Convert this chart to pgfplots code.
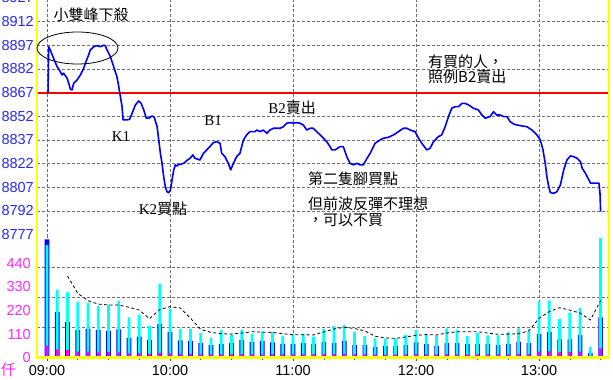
\documentclass[border=0pt]{standalone}
\usepackage{fontspec}
\setmainfont{Liberation Sans}
\newfontfamily\cjk{Noto Sans CJK TC}
\newfontfamily\serifL{Liberation Serif}
\usepackage{pgfplots}
\pgfplotsset{compat=1.18}
\usepackage{pgfplotstable}

\definecolor{lblblue}{RGB}{40,40,255}
\definecolor{lblmag}{RGB}{255,40,255}
\definecolor{pblue}{RGB}{0,0,255}
\definecolor{vcyan}{RGB}{0,255,255}
\definecolor{vmag}{RGB}{255,0,255}
\definecolor{ylw}{RGB}{255,255,0}
\definecolor{gridc}{RGB}{110,110,110}

\pgfplotstableread{
m p
0.5 8867
0.8 8896.1
1.6 8894.0
3.2 8888.8
4.9 8883.5
6.5 8880.3
7.3 8878.2
8.1 8879.3
9.8 8876.1
10.6 8872.9
11.4 8869.1
12.2 8868.7
13.0 8872.9
14.6 8875.0
16.3 8878.2
17.9 8882.4
18.7 8885.6
20.3 8890.9
21.1 8894.0
22.8 8896.1
24.4 8896.8
26.0 8896.1
27.6 8897.0
28.4 8896.8
29.3 8894.0
30.9 8889.8
32.5 8883.5
34.1 8877.1
35.0 8870.8
35.8 8864.4
36.6 8858.1
37.1 8849.7
39.0 8849.7
40.3 8850.1
41.5 8853.9
43.1 8859.2
44.7 8861.7
45.9 8860.2
47.2 8856.0
48.4 8850.8
49.6 8850.8
51.2 8852.2
52.3 8851.4
53.7 8845.4
54.5 8837.0
55.3 8828.6
56.1 8822.2
56.9 8813.7
57.7 8807.4
58.5 8804.2
59.4 8803.6
60.2 8805.3
61.0 8811.7
61.8 8818.0
62.6 8821.2
63.4 8820.5
64.2 8821.5
65.0 8821.5
66.7 8822.2
68.2 8824.0
69.8 8825.4
71.1 8827.5
72.2 8825.4
74.6 8824.3
76.3 8828.6
77.9 8830.7
79.5 8832.8
81.1 8835.3
82.8 8835.9
84.4 8834.9
85.2 8828.6
86.8 8826.4
88.4 8822.2
89.6 8818.0
90.9 8822.2
92.5 8826.4
94.1 8828.6
95.8 8837.0
97.4 8840.2
99.0 8842.3
101.5 8842.3
102.3 8843.3
103.9 8842.3
105.5 8843.3
107.2 8841.2
108.8 8843.3
110.4 8844.4
113.7 8844.4
115.3 8845.4
116.9 8847.6
118.5 8848.0
120.2 8847.6
121.8 8848.0
123.4 8847.6
125.0 8846.5
126.7 8843.3
128.3 8844.4
129.9 8844.4
131.5 8842.3
133.2 8840.2
134.8 8838.1
136.4 8835.9
138.0 8832.8
138.9 8830.7
140.5 8830.7
142.9 8832.8
144.5 8832.8
146.2 8826.4
147.8 8822.2
149.4 8821.2
151.1 8822.2
152.7 8821.2
154.3 8821.2
155.9 8825.0
157.6 8828.5
160.0 8834.9
162.4 8837.0
164.1 8838.1
166.5 8838.7
169.0 8840.2
171.4 8842.3
173.8 8844.4
175.5 8844.4
177.1 8843.3
179.5 8842.3
181.2 8838.1
182.8 8834.9
185.2 8830.7
186.8 8831.7
188.5 8835.9
190.9 8839.1
192.5 8840.2
194.2 8845.4
195.8 8851.8
197.4 8857.1
199.1 8858.1
200.7 8858.1
202.3 8860.2
203.9 8860.2
205.6 8859.2
208.0 8857.1
210.4 8856.0
212.1 8852.8
213.7 8850.8
216.1 8851.8
217.8 8854.9
219.4 8852.8
221.0 8852.8
222.7 8851.8
224.3 8851.8
225.9 8848.6
227.6 8847.1
229.2 8846.5
231.6 8845.9
234.1 8845.4
236.5 8843.3
238.9 8840.2
240.6 8837.0
241.9 8830.7
243.0 8822.2
243.8 8813.7
244.7 8807.4
245.5 8803.6
247.1 8803.2
248.7 8804.2
250.4 8808.5
252.0 8818.0
253.6 8824.3
255.3 8826.9
256.9 8826.4
258.5 8825.4
260.2 8823.2
261.0 8819.1
262.6 8815.9
264.3 8811.7
265.1 8809.6
269.2 8809.6
269.7 8803.2
270.0 8791.6
}\pricedata

\pgfplotstableread{
m blue cyan mag ma
0 552 525 56 nan
5 214 316 39 nan
10 166 305 36 381
15 129 261 28 300
20 134 256 28 266
25 129 241 25 250
30 124 247 26 246
35 132 264 25 246
40 93 188 20 235
45 98 201 20 222
50 82 149 18 182
55 157 344 22 225
60 120 227 20 238
65 81 134 18 232
70 78 134 18 184
75 68 115 16 132
80 59 93 16 118
85 65 129 16 112
90 68 106 16 110
95 82 129 17 115
100 73 112 16 121
105 78 123 16 119
110 71 120 16 118
115 64 103 15 112
120 64 109 15 107
125 68 110 15 107
130 64 98 15 106
135 73 135 17 120
140 68 149 17 134
145 78 152 18 142
150 59 120 15 136
155 59 101 15 125
160 51 90 14 100
165 55 89 14 92
170 55 89 14 90
175 59 106 15 97
180 71 129 17 104
185 64 106 15 108
190 55 103 14 106
195 68 137 17 115
200 68 129 16 121
205 64 101 15 121
210 64 115 15 121
215 64 104 15 115
220 59 104 15 109
225 64 120 16 110
230 73 137 18 112
235 68 126 17 125
240 110 261 28 184
245 120 266 30 215
250 86 180 25 233
255 86 210 26 222
260 106 232 28 208
265 22 50 8 176
270 188 558 44 266
}\voldata

\newcommand{\tfont}{\fontsize{14.5bp}{17bp}\selectfont}
\newcommand{\cfont}{\fontsize{15bp}{18bp}\selectfont}

\begin{document}
\begin{tikzpicture}
\path[use as bounding box] (0,0) rectangle (613bp,380bp);

% price panel
\begin{axis}[
  at={(37bp,143bp)}, anchor=south west, scale only axis,
  width=572bp, height=237bp,
  xmin=-4.88, xmax=274.1, ymin=8775.5, ymax=8925.7,
  axis line style={draw=none},
  tick style={draw=none},
  xtick={0,60,120,180,240}, xticklabels={},
  xmajorgrids,
  ytick={8777,8792,...,8912},
  extra y ticks={8792,8807,...,8912}, extra y tick labels={},
  extra y tick style={ymajorgrids=true},
  grid style={gridc, line width=0.6bp, dash pattern=on 2.5bp off 2.5bp},
  scaled y ticks=false,
  /pgf/number format/1000 sep={},
  /pgf/number format/assume math mode=true,
  yticklabel style={font=\tfont, text=lblblue, anchor=east, inner sep=0pt, xshift=-3bp},
]
\addplot[red, line width=2bp] coordinates {(-4.88,8867) (274.1,8867)};
\addplot[pblue, line width=1.6bp, line join=round] table[x=m, y=p] {\pricedata};
\end{axis}

% volume panel
\begin{axis}[
  at={(37bp,22.3bp)}, anchor=south west, scale only axis,
  width=572bp, height=120.7bp,
  xmin=-4.88, xmax=274.1, ymin=0, ymax=563,
  axis line style={draw=none},
  ytick={0,110,220,330,440},
  ytick style={draw=none},
  extra y ticks={140.75,281.5,422.25}, extra y tick labels={},
  extra y tick style={ymajorgrids=true},
  xtick={0,60,120,180,240},
  xticklabels={09:00,10:00,11:00,12:00,13:00},
  minor xtick={15,30,45,75,90,105,135,150,165,195,210,225,255,270},
  xtick pos=bottom, tick align=outside,
  major tick length=3bp, minor tick length=2.5bp,
  xtick style={black!70, line width=0.6bp},
  xmajorgrids,
  grid style={gridc, line width=0.6bp, dash pattern=on 2.5bp off 2.5bp},
  /pgf/number format/assume math mode=true,
  yticklabel style={font=\tfont, text=lblmag, anchor=east, inner sep=0pt, xshift=-3bp},
  xticklabel style={font=\tfont, text=black, anchor=north, inner sep=0pt, yshift=-4bp},
]
\addplot[ybar, bar width=4.6bp, bar shift=0pt, fill=pblue, draw=none] table[x=m, y=blue] {\voldata};
\addplot[ybar, bar width=2.8bp, bar shift=0pt, fill=vcyan, draw=none] table[x=m, y=cyan] {\voldata};
\addplot[ybar, bar width=2.8bp, bar shift=0pt, fill=vmag, draw=none] table[x=m, y=mag] {\voldata};
\addplot[black, line width=0.8bp, dash pattern=on 3bp off 2.5bp] table[x=m, y=ma] {\voldata};
\end{axis}

% frame (yellow)
\draw[ylw, line width=2.6bp] (37bp,380bp) -- (37bp,22.3bp) -- (609bp,22.3bp) -- (609bp,380bp);

% partially visible top label
\node[anchor=east, inner sep=0pt, text=lblblue, font=\tfont] at (34bp,382.4bp) {8927};
\node[text=lblmag, font=\cfont\cjk, inner sep=0pt] at (8.5bp,10bp) {仟};

% annotations
\draw[black, line width=0.8bp] (77.5bp,332bp) ellipse [x radius=40.5bp, y radius=16bp];
\node[font=\cfont\cjk, inner sep=0pt] at (91bp,365bp) {小雙峰下殺};
\node[font=\cfont\serifL, inner sep=0pt] at (121bp,243bp) {K1};
\node[font=\cfont, inner sep=0pt] at (163bp,171bp) {{\serifL K2}{\cjk 買點}};
\node[font=\cfont\serifL, inner sep=0pt] at (213bp,259bp) {B1};
\node[font=\cfont, inner sep=0pt] at (292bp,272bp) {{\serifL B2}{\cjk 賣出}};
\node[font=\cfont\cjk, inner sep=0pt, anchor=west] at (428bp,318bp) {有買的人，};
\node[font=\cfont\cjk, inner sep=0pt, anchor=west] at (428bp,303bp) {照例B2賣出};
\node[font=\cfont\cjk, inner sep=0pt, anchor=west] at (308bp,201bp) {第二隻腳買點};
\node[font=\cfont\cjk, inner sep=0pt, anchor=west] at (308bp,176bp) {但前波反彈不理想};
\node[font=\cfont\cjk, inner sep=0pt, anchor=west] at (308bp,160bp) {，可以不買};
\end{tikzpicture}
\end{document}
